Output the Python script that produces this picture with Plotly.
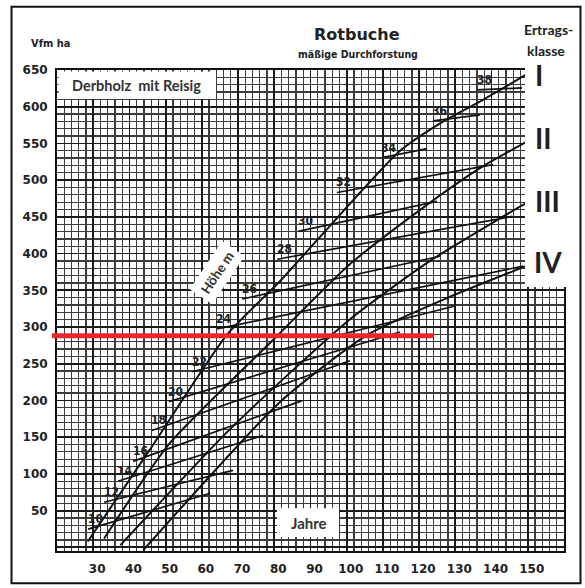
import plotly.graph_objects as go

# ---------------- data ----------------
X_RANGE = [20, 160]
Y_RANGE = [-5, 650]
x_tick_vals = [20, 30, 40, 50, 60, 70, 80, 90, 100, 110, 120, 130, 140, 150, 160]
x_tick_text = ["", "30", "40", "50", "60", "70", "80", "90", "100", "110", "120", "130", "140", "150", ""]
y_tick_vals = [0, 50, 100, 150, 200, 250, 300, 350, 400, 450, 500, 550, 600, 650]
y_tick_text = ["", "50", "100", "150", "200", "250", "300", "350", "400", "450", "500", "550", "600", "650"]

# yield-class curves (age in years, volume Vfm/ha)
class_I_age = [28.5, 45.5, 67, 81.5, 92.5, 114.5, 126, 137.5, 150]
class_I_vol = [8, 132, 290, 362, 422, 539, 578, 609, 645]
class_II_age = [33, 51, 80, 101, 121.5, 137, 150]
class_II_vol = [12, 141, 284, 386, 464, 517, 553]
class_III_age = [37.5, 68, 101, 123, 142, 150]
class_III_vol = [3, 162, 311, 390, 447, 470]
class_IV_age = [43.8, 81.6, 105.6, 127, 150]
class_IV_vol = [-4, 198, 289, 338, 384]

# height isolines (m): start / end points
height_labels = ["10", "12", "14", "16", "18", "20", "22", "24", "26", "28", "30", "32", "34", "36", "38"]
iso_age_start = [28.6, 33.0, 36.8, 41.0, 46.2, 50.9, 57.3, 64.2, 71.1, 80.8, 86.6, 97.3, 109.8, 123.8, 136.0]
iso_vol_start = [24.8, 61.4, 89.9, 117.0, 159.1, 198.4, 239.1, 297.4, 338.1, 392.3, 430.3, 483.2, 530.7, 580.8, 622.9]
iso_age_end = [62.3, 68.6, 76.9, 87.7, 100.9, 114.7, 129.9, 148.7, 125.8, 145.7, 124.9, 140.4, 122.2, 136.8, 148.4]
iso_vol_end = [73.6, 104.8, 152.3, 199.8, 254.0, 293.3, 328.6, 382.9, 396.4, 450.6, 471.0, 521.2, 542.9, 589.0, 625.6]

class_names = ["I", "II", "III", "IV"]
ref_volume = 288      # red reference line (Vfm/ha)
ref_age_end = 124

# ---------------- layout helpers ----------------
W, H = 585, 588
L, R, T, B = 57, 21, 70, 35
PW, PH = W - L - R, H - T - B


def pxx(px):
    return (px - L) / PW


def pxy(py):
    return (H - B - py) / PH


fig = go.Figure()

for ages, vols in [(class_I_age, class_I_vol), (class_II_age, class_II_vol),
                   (class_III_age, class_III_vol), (class_IV_age, class_IV_vol)]:
    fig.add_trace(go.Scatter(x=ages, y=vols, mode="lines",
                             line=dict(color="#111", width=2, shape="spline", smoothing=0.6),
                             hoverinfo="skip", showlegend=False))

for i, lab in enumerate(height_labels):
    fig.add_trace(go.Scatter(x=[iso_age_start[i], iso_age_end[i]],
                             y=[iso_vol_start[i], iso_vol_end[i]], mode="lines",
                             line=dict(color="#111", width=1.7),
                             hoverinfo="skip", showlegend=False))

annotations = []
for i, lab in enumerate(height_labels):
    annotations.append(dict(x=iso_age_start[i], y=iso_vol_start[i], xref="x", yref="y",
                            text=lab, showarrow=False, xshift=7, yshift=10,
                            xanchor="center", yanchor="middle",
                            font=dict(family="DejaVu Sans Condensed", size=12, color="#222", weight="bold")))


def label(px, py, text, family, size, color="#222", **kw):
    return dict(x=pxx(px), y=pxy(py), xref="paper", yref="paper", text=text, showarrow=False,
                xanchor="center", yanchor="middle",
                font=dict(family=family, size=size, color=color, weight="bold"), **kw)


annotations += [
    label(357, 34, "Rotbuche", "DejaVu Sans", 16),
    label(358, 54, "mäßige Durchforstung", "DejaVu Sans Condensed", 10.5),
    label(50, 43, "Vfm ha", "DejaVu Sans Condensed", 11),
    label(548, 29, "Ertrags-", "Lato", 14),
    label(546, 50, "klasse", "Lato", 14),
    label(136, 86, "Derbholz  mit Reisig", "Lato", 14.5, "#333"),
    label(309, 525, "Jahre", "Lato", 15, "#333"),
    label(217, 274, "Höhe m", "Lato", 13.5, "#333", textangle=-56, bgcolor="white", borderpad=5),
]
for name, (cx, cy) in zip(class_names, [(539, 75), (543, 138), (547, 202), (548, 263)]):
    annotations.append(label(cx, cy, name, "Lato", 28))

ry = (ref_volume - Y_RANGE[0]) / (Y_RANGE[1] - Y_RANGE[0])
rx1 = (ref_age_end - X_RANGE[0]) / (X_RANGE[1] - X_RANGE[0])

shapes = [
    # white boxes
    dict(type="rect", xref="paper", yref="paper", x0=pxx(525), x1=pxx(590), y0=pxy(288), y1=pxy(-5),
         fillcolor="white", line=dict(width=0), layer="above"),
    dict(type="rect", xref="paper", yref="paper", x0=pxx(58.5), x1=pxx(216), y0=pxy(99), y1=pxy(71.5),
         fillcolor="white", line=dict(width=0), layer="above"),
    dict(type="rect", xref="paper", yref="paper", x0=pxx(277), x1=pxx(339), y0=pxy(539), y1=pxy(510),
         fillcolor="white", line=dict(width=0), layer="above"),
    # red reference line
    dict(type="line", xref="paper", yref="paper", x0=pxx(52), x1=rx1, y0=ry, y1=ry,
         line=dict(color="#f2262a", width=5), layer="above"),
    # outer frame
    dict(type="rect", xref="paper", yref="paper", x0=pxx(11.5), x1=pxx(580.5), y0=pxy(585.5), y1=pxy(6.5),
         fillcolor="rgba(0,0,0,0)", line=dict(color="#111", width=2), layer="above"),
]

axis_common = dict(showline=True, linewidth=2, linecolor="#111", mirror=True, zeroline=False,
                   ticks="", showgrid=True, gridcolor="#1a1a1a", gridwidth=1.8,
                   tickfont=dict(family="DejaVu Sans", size=12, color="#222", weight="bold"))

fig.update_layout(
    width=W, height=H, margin=dict(l=L, r=R, t=T, b=B),
    paper_bgcolor="white", plot_bgcolor="white",
    xaxis=dict(range=X_RANGE, tickmode="array", tickvals=x_tick_vals, ticktext=x_tick_text,
               minor=dict(dtick=2, tick0=0, showgrid=True, gridcolor="#3c3c3c", gridwidth=1.25),
               ticklabelshift=4, ticklabelstandoff=6, **axis_common),
    yaxis=dict(range=Y_RANGE, tickmode="array", tickvals=y_tick_vals, ticktext=y_tick_text,
               minor=dict(dtick=10, tick0=0, showgrid=True, gridcolor="#3c3c3c", gridwidth=1.25),
               ticklabelstandoff=5, **axis_common),
    annotations=annotations, shapes=shapes, showlegend=False,
)

fig.write_html("out.html", config={"displayModeBar": False, "staticPlot": True},
               post_script="document.body.style.margin='0';document.body.style.overflow='hidden';")
